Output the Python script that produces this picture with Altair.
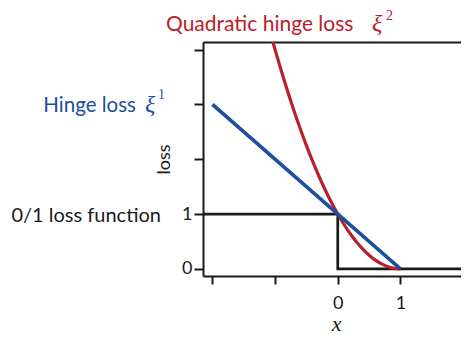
import altair as alt
import pandas as pd

# ---- data ----
hinge_x = [-2, 1]
hinge_y = [3, 0]

quad_x = [-1.3, -1.2, -1.1, -1.0, -0.9, -0.8, -0.7, -0.6, -0.5, -0.4, -0.3, -0.2,
          -0.1, 0.0, 0.1, 0.2, 0.3, 0.4, 0.5, 0.6, 0.7, 0.8, 0.9, 1.0]
quad_y = [5.29, 4.84, 4.41, 4.0, 3.61, 3.24, 2.89, 2.56, 2.25, 1.96, 1.69, 1.44,
          1.21, 1.0, 0.81, 0.64, 0.49, 0.36, 0.25, 0.16, 0.09, 0.04, 0.01, 0.0]

zero_one_x = [-2.3, 0, 0, 2.3]
zero_one_y = [1, 1, 0, 0]

x_ticks = [-2, -1, 0, 1, 2]
y_ticks = [0, 1, 2, 3, 4]

quad_label = "Quadratic hinge loss"
hinge_label = "Hinge loss"
zero_one_label = "0/1 loss function"
xi = "ξ"
sup_hinge = "1"
sup_quad = "2"

RED = "#b8202a"
BLUE = "#1d4f9f"
INK = "#1a1a1a"
SANS = "Lato"
SERIF = "Liberation Serif"

hinge_df = pd.DataFrame({"x": hinge_x, "y": hinge_y})
quad_df = pd.DataFrame({"x": quad_x, "y": quad_y})
zo_df = pd.DataFrame({"x": zero_one_x, "y": zero_one_y, "o": list(range(len(zero_one_x)))})

xscale = alt.Scale(domain=[-2.15, 2.094], nice=False, zero=False)
yscale = alt.Scale(domain=[-0.13, 4.14], nice=False, zero=False)

label_expr = "indexof([0,1], datum.value) >= 0 ? datum.label : ''"

x_bottom = alt.Axis(values=x_ticks, labelExpr=label_expr, grid=False,
                    domainColor=INK, domainWidth=2, tickColor=INK, tickWidth=2,
                    tickSize=8, labelFont=SANS, labelFontSize=18, labelColor=INK,
                    labelPadding=10, labelFlush=False,
                    title="x", titleFont=SERIF, titleFontStyle="italic",
                    titleFontWeight="normal", titleFontSize=22, titleColor=INK,
                    titlePadding=0, titleBaseline="alphabetic", titleY=54.5)
x_top = alt.Axis(orient="top", ticks=False, labels=False, grid=False,
                 domainColor=INK, domainWidth=2, title=None)
y_axis = alt.Axis(values=y_ticks, labelExpr=label_expr, grid=False,
                  domainColor=INK, domainWidth=2, tickColor=INK, tickWidth=2,
                  tickSize=9, labelFont=SANS, labelFontSize=18, labelColor=INK,
                  labelPadding=2, labelFlush=False,
                  title="loss", titleFont=SANS, titleFontSize=18,
                  titleFontWeight="normal", titleColor=INK, titlePadding=8)

zero_one = alt.Chart(zo_df).mark_line(color=INK, strokeWidth=2.7, clip=True).encode(
    x=alt.X("x:Q", scale=xscale, axis=x_bottom),
    y=alt.Y("y:Q", scale=yscale, axis=y_axis),
    order="o:Q",
)
quad = alt.Chart(quad_df).mark_line(color=RED, strokeWidth=3.2, clip=True,
                                     interpolate="monotone").encode(
    x=alt.X("x:Q", scale=xscale, axis=None),
    y=alt.Y("y:Q", scale=yscale, axis=y_axis),
)
hinge = alt.Chart(hinge_df).mark_line(color=BLUE, strokeWidth=3.6, clip=True).encode(
    x=alt.X("x:Q", scale=xscale, axis=x_top),
    y=alt.Y("y:Q", scale=yscale, axis=y_axis),
)


def label(text, x, y, color, font, size, align="left", style="normal"):
    return alt.Chart(pd.DataFrame({"t": [text]})).mark_text(
        align=align, baseline="alphabetic", color=color, font=font,
        fontSize=size, fontStyle=style,
    ).encode(x=alt.value(x), y=alt.value(y), text="t:N")


texts = [
    label(quad_label, -37, -11, RED, SANS, 21),
    label(xi, 169, -11, RED, SERIF, 24, style="italic"),
    label(sup_quad, 183, -22, RED, SERIF, 14),
    label(hinge_label, -67, 70, BLUE, SANS, 20.5, align="right"),
    label(xi, -58, 70, BLUE, SERIF, 24, style="italic"),
    label(sup_hinge, -45, 57, BLUE, SERIF, 14),
    label(zero_one_label, -42, 180, INK, SANS, 20, align="right"),
]

chart = alt.layer(zero_one, quad, hinge, *texts).resolve_axis(x="independent").properties(
    width=266, height=234,
    autosize=alt.AutoSizeParams(type="none"),
    padding={"left": 195, "top": 34, "right": -8, "bottom": 59},
).configure_view(stroke=None).configure(background="white")

chart.save("out.html", embed_options={"renderer": "svg", "actions": False})
